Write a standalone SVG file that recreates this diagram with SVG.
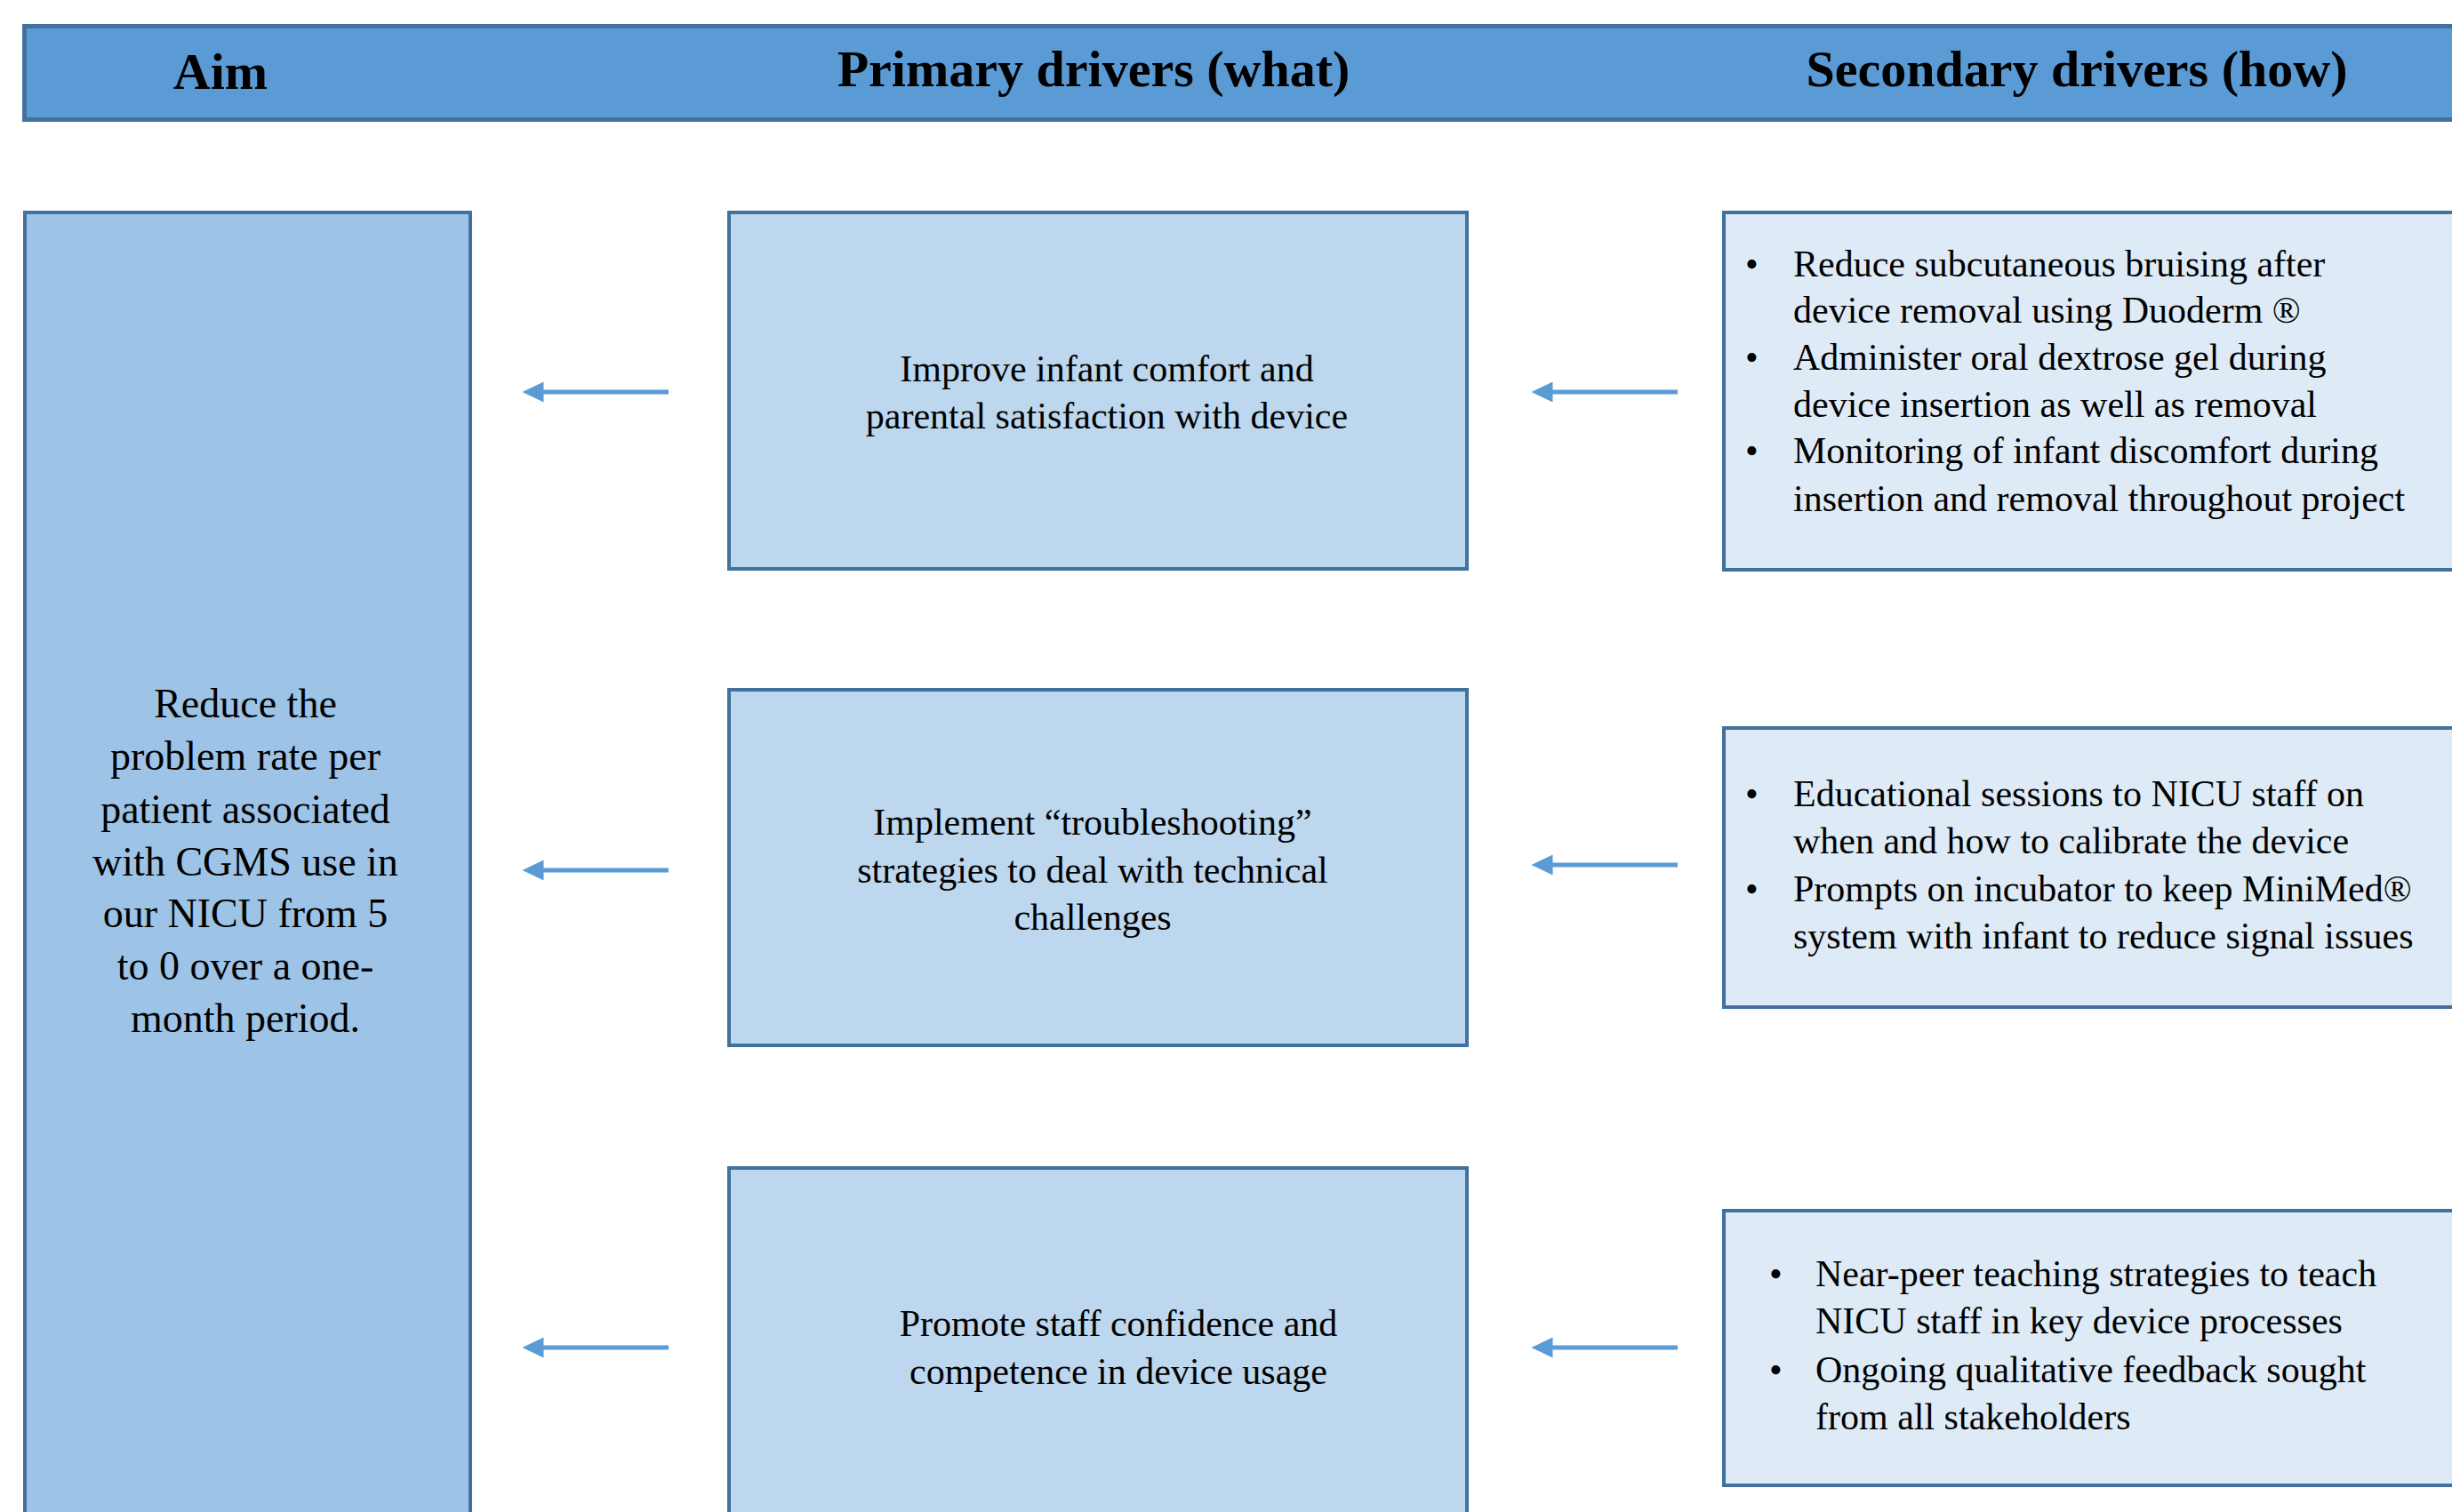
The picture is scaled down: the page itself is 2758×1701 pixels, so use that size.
<svg xmlns="http://www.w3.org/2000/svg" width="2758" height="1701" viewBox="0 0 2758 1701">
<defs>
<style>
.hdr{fill:#5B9BD5;stroke:#41719C;stroke-width:5}
.aim{fill:#9DC3E6;stroke:#41719C;stroke-width:4}
.pri{fill:#BDD7EE;stroke:#41719C;stroke-width:4}
.sec{fill:#DEEBF7;stroke:#41719C;stroke-width:4}
text{font-family:'Liberation Serif','DejaVu Serif',serif;fill:#000}
.ht{font-weight:bold;font-size:58px;text-anchor:middle}
.at{font-size:46px;text-anchor:middle}
.pt{font-size:42px;text-anchor:middle}
.st{font-size:42px}
.arr{stroke:#5B9BD5;stroke-width:5;fill:none}
</style>
<marker id="ah" markerWidth="6" markerHeight="6" refX="1.5" refY="3" orient="auto" markerUnits="strokeWidth">
<path d="M0,0.7 L4.8,3 L0,5.3 Z" fill="#5B9BD5"/>
</marker>
</defs>
<rect width="2758" height="1701" fill="#fff"/>
<g id="header">
<rect class="hdr" x="27.5" y="29.5" width="2800" height="105"/>
<text class="ht" x="248" y="100" font-family="Liberation Serif, serif">Aim</text>
<text class="ht" x="1230" y="97" font-family="Liberation Serif, serif">Primary drivers (what)</text>
<text class="ht" x="2336" y="97" font-family="Liberation Serif, serif">Secondary drivers (how)</text>
</g>
<g id="aim">
<rect class="aim" x="28" y="239" width="501" height="1500"/>
<text class="at" font-family="Liberation Serif, serif"><tspan x="276" y="807">Reduce the</tspan><tspan x="276" y="866">problem rate per</tspan><tspan x="276" y="926">patient associated</tspan><tspan x="276" y="985">with CGMS use in</tspan><tspan x="276" y="1043">our NICU from 5</tspan><tspan x="276" y="1102">to 0 over a one-</tspan><tspan x="276" y="1161">month period.</tspan></text>
</g>
<g id="primary1">
<rect class="pri" x="820" y="239" width="830" height="401"/>
<text class="pt" font-family="Liberation Serif, serif"><tspan x="1245" y="429">Improve infant comfort and</tspan><tspan x="1245" y="482">parental satisfaction with device</tspan></text>
</g>
<g id="primary2">
<rect class="pri" x="820" y="776" width="830" height="400"/>
<text class="pt" font-family="Liberation Serif, serif"><tspan x="1229" y="939">Implement “troubleshooting”</tspan><tspan x="1229" y="993">strategies to deal with technical</tspan><tspan x="1229" y="1046">challenges</tspan></text>
</g>
<g id="primary3">
<rect class="pri" x="820" y="1314" width="830" height="500"/>
<text class="pt" font-family="Liberation Serif, serif"><tspan x="1258" y="1503">Promote staff confidence and</tspan><tspan x="1258" y="1557">competence in device usage</tspan></text>
</g>
<g id="secondary1">
<rect class="sec" x="1939" y="239" width="900" height="402"/>
<text class="st" font-family="Liberation Serif, serif"><tspan x="1963" y="311">•</tspan><tspan x="2017" y="311">Reduce subcutaneous bruising after</tspan><tspan x="2017" y="363">device removal using Duoderm ®</tspan><tspan x="1963" y="416">•</tspan><tspan x="2017" y="416">Administer oral dextrose gel during</tspan><tspan x="2017" y="469">device insertion as well as removal</tspan><tspan x="1963" y="521">•</tspan><tspan x="2017" y="521">Monitoring of infant discomfort during</tspan><tspan x="2017" y="575">insertion and removal throughout project</tspan></text>
</g>
<g id="secondary2">
<rect class="sec" x="1939" y="819" width="900" height="314"/>
<text class="st" font-family="Liberation Serif, serif"><tspan x="1963" y="907">•</tspan><tspan x="2017" y="907">Educational sessions to NICU staff on</tspan><tspan x="2017" y="960">when and how to calibrate the device</tspan><tspan x="1963" y="1014">•</tspan><tspan x="2017" y="1014">Prompts on incubator to keep MiniMed®</tspan><tspan x="2017" y="1067">system with infant to reduce signal issues</tspan></text>
</g>
<g id="secondary3">
<rect class="sec" x="1939" y="1362" width="900" height="309"/>
<text class="st" font-family="Liberation Serif, serif"><tspan x="1990" y="1447">•</tspan><tspan x="2042" y="1447">Near-peer teaching strategies to teach</tspan><tspan x="2042" y="1500">NICU staff in key device processes</tspan><tspan x="1990" y="1555">•</tspan><tspan x="2042" y="1555">Ongoing qualitative feedback sought</tspan><tspan x="2042" y="1608">from all stakeholders</tspan></text>
</g>
<g id="connectors">
<line class="arr" x1="752" y1="441" x2="604" y2="441" marker-end="url(#ah)"/>
<line class="arr" x1="752" y1="979" x2="604" y2="979" marker-end="url(#ah)"/>
<line class="arr" x1="752" y1="1516" x2="604" y2="1516" marker-end="url(#ah)"/>
<line class="arr" x1="1887" y1="441" x2="1739" y2="441" marker-end="url(#ah)"/>
<line class="arr" x1="1887" y1="973" x2="1739" y2="973" marker-end="url(#ah)"/>
<line class="arr" x1="1887" y1="1516" x2="1739" y2="1516" marker-end="url(#ah)"/>
</g>
</svg>
